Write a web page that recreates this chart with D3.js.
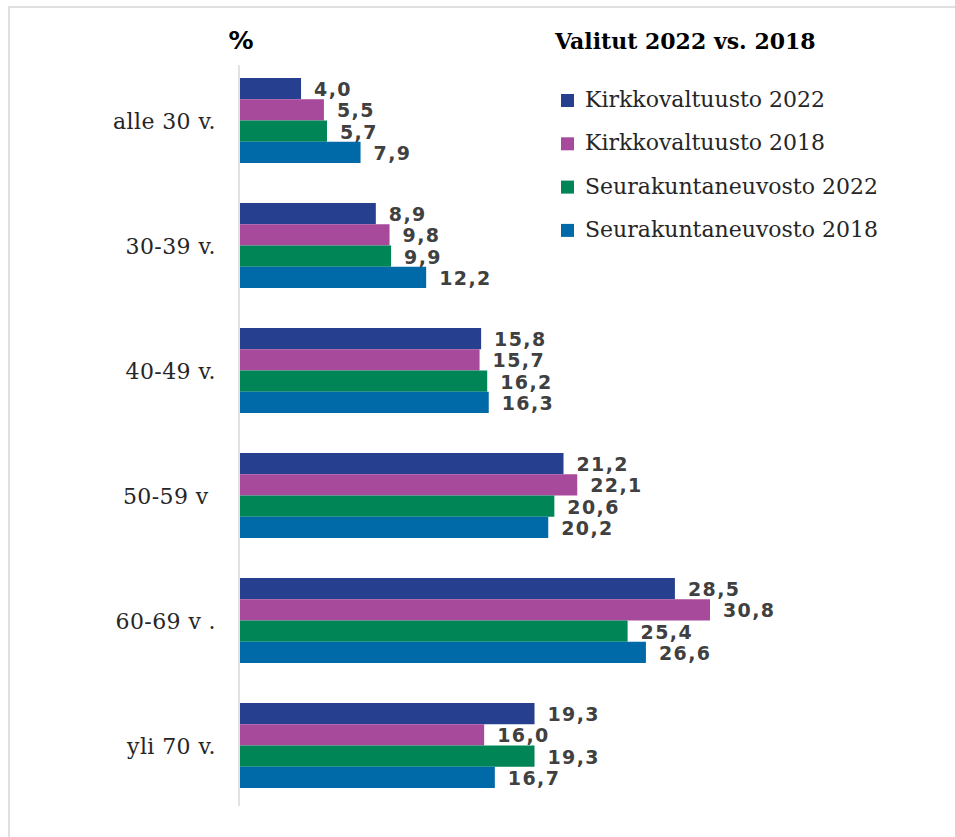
<!DOCTYPE html>
<html>
<head>
<meta charset="utf-8">
<script src="https://cdn.jsdelivr.net/npm/d3@7"></script>
<style>
  body { margin: 0; background: #fff; }
  svg { display: block; }
</style>
</head>
<body>
<svg id="chart"></svg>
<script>
// age groups and series values (%)
var categories = ["alle 30 v.", "30-39 v.", "40-49 v.", "50-59 v ", "60-69 v .", "yli 70 v."];
var seriesNames = ["Kirkkovaltuusto 2022", "Kirkkovaltuusto 2018", "Seurakuntaneuvosto 2022", "Seurakuntaneuvosto 2018"];
var kv2022 = [4.0, 8.9, 15.8, 21.2, 28.5, 19.3];
var kv2018 = [5.5, 9.8, 15.7, 22.1, 30.8, 16.0];
var srn2022 = [5.7, 9.9, 16.2, 20.6, 25.4, 19.3];
var srn2018 = [7.9, 12.2, 16.3, 20.2, 26.6, 16.7];
var seriesColors = ["#263f8e", "#a84a9b", "#008556", "#0069a8"];

var width = { svg: 955 };
var height = { svg: 837 };

var svg = d3.select("#chart").attr("width", width.svg).attr("height", height.svg);

var allSeries = [kv2022, kv2018, srn2022, srn2018];

// frame (only top/left edges visible in the picture)
svg.append("rect")
  .attr("x", 9)
  .attr("y", 7)
  .attr("width", 960)
  .attr("height", 850)
  .attr("fill", "none")
  .attr("stroke", "#e0e0e0")
  .attr("stroke-width", 2);

var xScale = d3.scaleLinear().domain([0, 30.8]).range([240, 710]);

var yScale = d3.scaleBand()
  .domain(categories)
  .range([58, 808])
  .paddingInner(0.32)
  .paddingOuter(0.16);

var ySub = d3.scaleBand()
  .domain(d3.range(seriesNames.length))
  .range([0, yScale.bandwidth()]);

// vertical axis line
svg.append("line")
  .attr("x1", xScale(0) - 1)
  .attr("x2", xScale(0) - 1)
  .attr("y1", 65)
  .attr("y2", 806)
  .attr("stroke", "#d9d9d9")
  .attr("stroke-width", 1.5);

var groups = svg.selectAll("g.group")
  .data(categories)
  .enter()
  .append("g")
  .attr("class", "group")
  .attr("transform", (d) => `translate(0, ${yScale(d)})`);

groups.selectAll("rect.bar")
  .data((d, i) => allSeries.map((s, j) => ({ value: s[i], series: j })))
  .enter()
  .append("rect")
  .attr("class", "bar")
  .attr("x", xScale(0))
  .attr("y", (d) => ySub(d.series))
  .attr("width", (d) => xScale(d.value) - xScale(0))
  .attr("height", ySub.bandwidth())
  .attr("fill", (d) => seriesColors[d.series]);

groups.selectAll("text.value")
  .data((d, i) => allSeries.map((s, j) => ({ value: s[i], series: j })))
  .enter()
  .append("text")
  .attr("class", "value")
  .attr("x", (d) => xScale(d.value) + 13)
  .attr("y", (d) => ySub(d.series) + ySub.bandwidth() / 2 + 2)
  .attr("dominant-baseline", "middle")
  .attr("fill", "#404040")
  .style("font-family", "'DejaVu Sans', Verdana, sans-serif")
  .style("font-weight", "bold")
  .style("font-size", "19px")
  .style("letter-spacing", "1.4px")
  .text((d) => d3.format(".1f")(d.value).replace(".", ","));

// category labels
svg.selectAll("text.cat")
  .data(categories)
  .enter()
  .append("text")
  .attr("class", "cat")
  .attr("x", 216)
  .attr("y", (d) => yScale(d) + yScale.bandwidth() / 2 + 2)
  .attr("text-anchor", "end")
  .attr("dominant-baseline", "middle")
  .attr("fill", "#262626")
  .style("white-space", "pre")
  .style("font-family", "'DejaVu Serif', serif")
  .style("font-size", "22px")
  .style("letter-spacing", "0.4px")
  .text((d) => d);

// "%" unit label
svg.append("text")
  .attr("x", 241)
  .attr("y", 42)
  .attr("text-anchor", "middle")
  .attr("dominant-baseline", "middle")
  .attr("fill", "#000")
  .style("font-family", "'DejaVu Sans', sans-serif")
  .style("font-weight", "bold")
  .style("font-size", "25px")
  .text("%");

// title
svg.append("text")
  .attr("x", 555)
  .attr("y", 43)
  .attr("dominant-baseline", "middle")
  .attr("fill", "#000")
  .style("font-family", "'DejaVu Serif', serif")
  .style("font-weight", "bold")
  .style("font-size", "22px")
  .text("Valitut 2022 vs. 2018");

// legend
var legend = svg.selectAll("g.legend")
  .data(seriesNames)
  .enter()
  .append("g")
  .attr("class", "legend")
  .attr("transform", (d, i) => `translate(561, ${100 + i * 43.3})`);

legend.append("rect")
  .attr("x", 0)
  .attr("y", -6)
  .attr("width", 13)
  .attr("height", 13)
  .attr("fill", (d, i) => seriesColors[i]);

legend.append("text")
  .attr("x", 24)
  .attr("y", 1)
  .attr("dominant-baseline", "middle")
  .attr("fill", "#262626")
  .style("font-family", "'DejaVu Serif', serif")
  .style("font-size", "22px")
  .text((d) => d);
</script>
</body>
</html>
